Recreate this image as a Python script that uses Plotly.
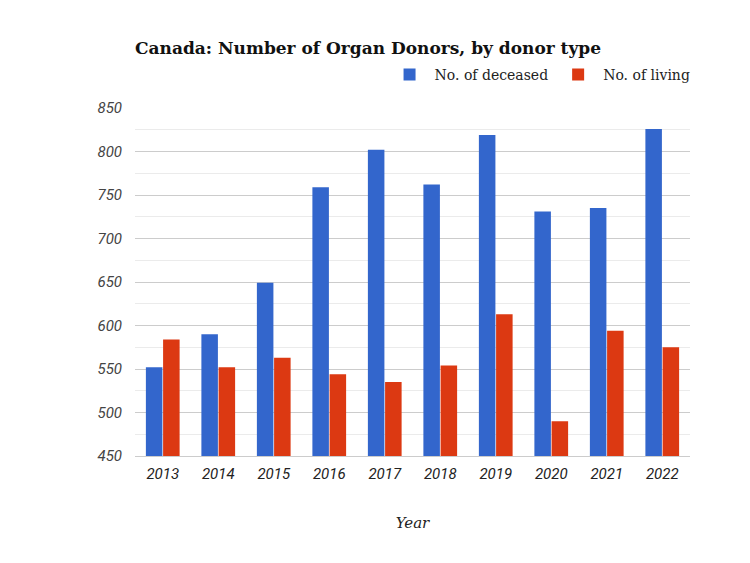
import plotly.graph_objects as go

years = ["2013", "2014", "2015", "2016", "2017", "2018", "2019", "2020", "2021", "2022"]
deceased = [552, 590, 649, 759, 802, 762, 819, 731, 735, 826]
living = [584, 552, 563, 544, 535, 554, 613, 490, 594, 575]
y_ticks = [450, 500, 550, 600, 650, 700, 750, 800, 850]

fig = go.Figure()
fig.add_trace(go.Bar(x=years, y=deceased, name="No. of deceased",
                     marker=dict(color="#3366cc", line=dict(width=0))))
fig.add_trace(go.Bar(x=years, y=living, name="No. of living",
                     marker=dict(color="#dc3912", line=dict(width=0))))

fig.update_layout(
    width=750, height=563,
    paper_bgcolor="white", plot_bgcolor="white",
    margin=dict(l=127, r=68, t=100, b=115),
    barmode="group", bargap=0.38, bargroupgap=0.04,
    title=dict(text="<b>Canada: Number of Organ Donors, by donor type</b>",
               x=127/750, xanchor="left", y=1-40/563, yanchor="middle",
               font=dict(family="DejaVu Serif", size=17, color="#111111")),
    legend=dict(orientation="h", x=1.01, xanchor="right", y=1.095, yanchor="middle",
                font=dict(family="DejaVu Serif", size=14, color="#222222"),
                itemsizing="constant", traceorder="normal", itemwidth=40),
    xaxis=dict(title=dict(text="<i>Year</i>", standoff=35,
                          font=dict(family="DejaVu Serif", size=15, color="#222222")),
               tickfont=dict(family="Roboto", size=15, color="#222222"),
               showgrid=False, showline=True, linecolor="#cccccc", linewidth=1,
               ticks="", ticklabelstandoff=4),
    yaxis=dict(range=[450, 850], tickvals=y_ticks,
               ticktext=[f"<i>{v}</i>" for v in y_ticks],
               tickfont=dict(family="Roboto", size=15, color="#444444"),
               showgrid=True, gridcolor="#cccccc", gridwidth=1,
               minor=dict(dtick=25, showgrid=True, gridcolor="#ebebeb", gridwidth=1),
               zeroline=False, ticks="", ticklabelstandoff=12),
)
fig.update_xaxes(ticktext=[f"<i>{y}</i>" for y in years], tickvals=years)

fig.write_html("out.html")
